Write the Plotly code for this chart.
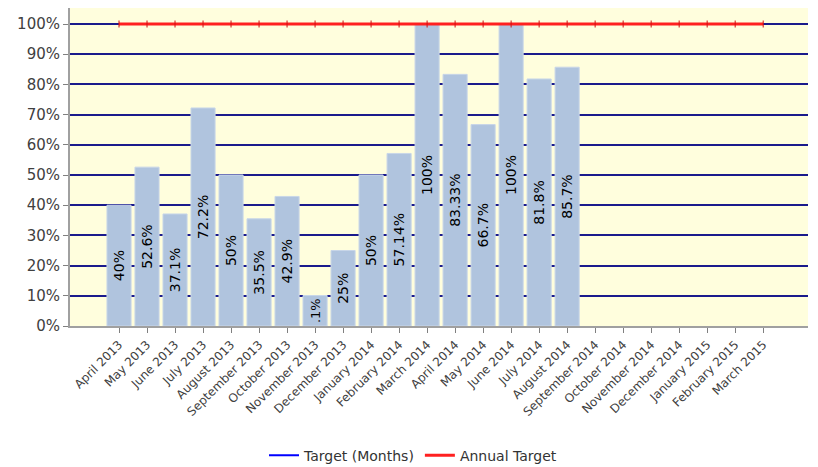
import plotly.graph_objects as go

months = ["April 2013", "May 2013", "June 2013", "July 2013", "August 2013",
          "September 2013", "October 2013", "November 2013", "December 2013",
          "January 2014", "February 2014", "March 2014", "April 2014", "May 2014",
          "June 2014", "July 2014", "August 2014", "September 2014", "October 2014",
          "November 2014", "December 2014", "January 2015", "February 2015", "March 2015"]
actual = [40, 52.6, 37.1, 72.2, 50, 35.5, 42.9, 10.1, 25, 50, 57.14, 100,
          83.33, 66.7, 100, 81.8, 85.7, None, None, None, None, None, None, None]
bar_labels = ["40%", "52.6%", "37.1%", "72.2%", "50%", "35.5%", "42.9%", ".1%", "25%",
              "50%", "57.14%", "100%", "83.33%", "66.7%", "100%", "81.8%", "85.7%",
              "", "", "", "", "", "", ""]
target_months = [100] * 17 + [None] * 7
annual_target = [100] * 24
y_ticks = [0, 10, 20, 30, 40, 50, 60, 70, 80, 90, 100]
y_tick_text = [f"{v}%" for v in y_ticks]

FONT = "DejaVu Sans"

fig = go.Figure()
fig.add_trace(go.Bar(
    x=months, y=actual, text=bar_labels, textposition="inside",
    insidetextanchor="middle", textangle=-90,
    textfont=dict(family=FONT, size=14, color="#000000"),
    marker=dict(color="#B0C4DE", line=dict(color="#C8D6E8", width=1)),
    width=0.86, showlegend=False, hoverinfo="x+y", cliponaxis=False,
))
fig.add_trace(go.Scatter(
    x=months, y=target_months, mode="lines", name="Target (Months)",
    line=dict(color="#0000FF", width=2),
))
fig.add_trace(go.Scatter(
    x=months, y=annual_target, mode="lines", name="Annual Target",
    line=dict(color="#FF2020", width=3), legendgroup="annual",
))
fig.add_trace(go.Scatter(
    x=months, y=annual_target, mode="markers", name="Annual Target",
    marker=dict(symbol="line-ns", size=5, color="#D01010",
                line=dict(color="#D01010", width=1)),
    legendgroup="annual", showlegend=False, hoverinfo="skip",
))

fig.update_layout(
    width=810, height=459,
    margin=dict(l=62, r=10, t=0, b=141, autoexpand=False),
    paper_bgcolor="#FFFFFF",
    plot_bgcolor="#FFFEDD",
    font=dict(family=FONT, color="#404040"),
    legend=dict(orientation="h", xref="container", yref="container",
                x=0.5, xanchor="center", y=0.025, yanchor="middle",
                font=dict(family=FONT, size=14, color="#333333"),
                itemwidth=30, tracegroupgap=0),
    xaxis=dict(
        type="category", range=[-1.75, 24.6],
        tickangle=-45, tickfont=dict(family=FONT, size=12, color="#404040"),
        ticks="outside", ticklen=5, tickcolor="#808080",
        showline=True, linecolor="#A0A0A0", linewidth=2,
        showgrid=False, zeroline=False, automargin=False,
    ),
    yaxis=dict(
        range=[0, 105.3], tickvals=y_ticks, ticktext=y_tick_text,
        tickfont=dict(family=FONT, size=15, color="#404040"),
        ticks="outside", ticklen=5, tickcolor="#808080",
        showline=True, linecolor="#A0A0A0", linewidth=2,
        showgrid=True, gridcolor="#1A1A8C", gridwidth=2, zeroline=False,
        automargin=False,
    ),
)

fig.write_html("out.html")
